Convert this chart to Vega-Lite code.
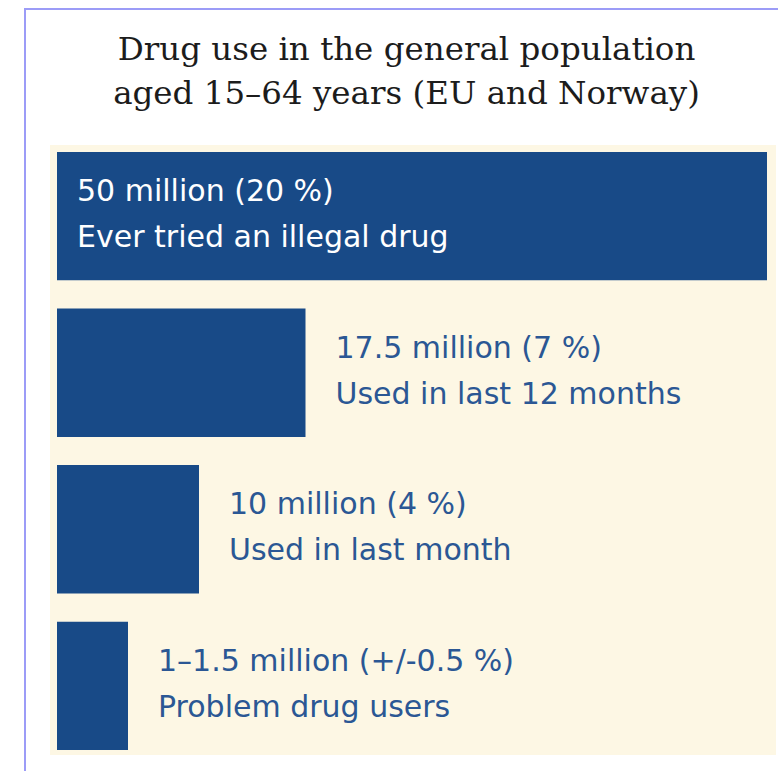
{
  "$schema": "https://vega.github.io/schema/vega-lite/v6.json",
  "width": 763,
  "height": 772,
  "autosize": {"type": "none"},
  "padding": {"left": 25, "top": 9, "right": -10, "bottom": -10},
  "background": "white",
  "title": {
    "text": ["Drug use in the general population", "aged 15–64 years (EU and Norway)"],
    "font": "DejaVu Serif",
    "fontSize": 32.5,
    "fontWeight": "normal",
    "color": "#1c1c1c",
    "lineHeight": 44,
    "anchor": "middle",
    "offset": -101
  },
  "config": {"view": {"stroke": "#9c9cf7", "strokeWidth": 2, "fill": "white"}},
  "data": {
    "values": [
      {"group": "Ever tried an illegal drug", "value": 50, "label": "50 million (20 %)\nEver tried an illegal drug"},
      {"group": "Used in last 12 months", "value": 17.5, "label": "17.5 million (7 %)\nUsed in last 12 months"},
      {"group": "Used in last month", "value": 10, "label": "10 million (4 %)\nUsed in last month"},
      {"group": "Problem drug users", "value": 5, "label": "1–1.5 million (+/-0.5 %)\nProblem drug users"}
    ]
  },
  "layer": [
    {
      "data": {"values": [{"panel": "background"}]},
      "mark": {"type": "rect", "color": "#fdf7e4"},
      "encoding": {
        "x": {"datum": 0, "type": "quantitative", "scale": {"domain": [0, 1], "range": [25, 751]}, "axis": null},
        "x2": {"datum": 1},
        "y": {"datum": 0, "type": "quantitative", "scale": {"domain": [0, 1], "range": [136, 746]}, "axis": null},
        "y2": {"datum": 1}
      }
    },
    {
      "layer": [
        {
          "mark": {"type": "bar", "color": "#184a87"},
          "encoding": {
            "x": {"field": "value", "type": "quantitative", "scale": {"domain": [0, 50], "range": [32, 742], "zero": true, "nice": false}, "axis": null},
            "y": {"field": "group", "type": "nominal", "sort": null, "axis": null,
                  "scale": {"domain": ["Ever tried an illegal drug", "Used in last 12 months", "Used in last month", "Problem drug users"], "range": [143, 741], "paddingInner": 0.18, "paddingOuter": 0}}
          }
        },
        {
          "transform": [{"filter": "datum.value < 40"}],
          "mark": {"type": "text", "align": "left", "baseline": "middle", "dx": 30, "dy": -24, "lineBreak": "\n", "lineHeight": 46, "font": "DejaVu Sans", "fontSize": 30, "color": "#2b5794"},
          "encoding": {
            "x": {"field": "value", "type": "quantitative"},
            "y": {"field": "group", "type": "nominal", "sort": null},
            "text": {"field": "label"}
          }
        },
        {
          "transform": [{"filter": "datum.value >= 40"}],
          "mark": {"type": "text", "align": "left", "baseline": "middle", "dx": 20, "dy": -24, "lineBreak": "\n", "lineHeight": 46, "font": "DejaVu Sans", "fontSize": 30, "color": "#ffffff"},
          "encoding": {
            "x": {"datum": 0, "type": "quantitative"},
            "y": {"field": "group", "type": "nominal", "sort": null},
            "text": {"field": "label"}
          }
        }
      ]
    }
  ],
  "resolve": {"scale": {"x": "independent", "y": "independent"}}
}
